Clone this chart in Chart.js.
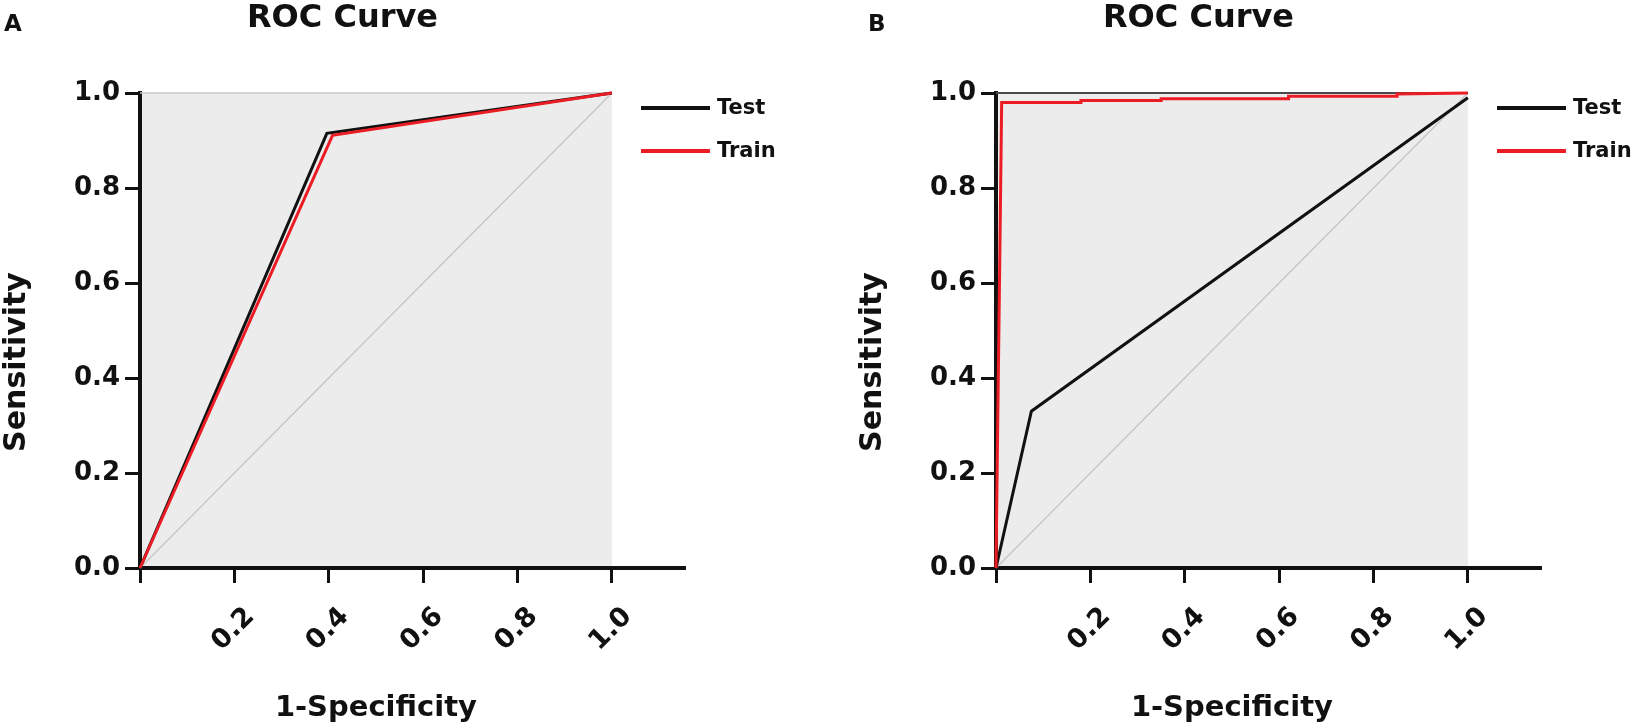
<!DOCTYPE html>
<html>
<head>
<meta charset="utf-8">
<script src="https://cdn.jsdelivr.net/npm/chart.js@4.4.1/dist/chart.umd.min.js"></script>
<style>
  html, body { margin: 0; padding: 0; background: #ffffff; width: 1635px; height: 725px; overflow: hidden; }
  .panel { position: absolute; top: 0; width: 866px; height: 725px; }
  .plabel { position: absolute; font-family: 'DejaVu Sans', sans-serif; font-weight: bold; font-size: 23px; color: #111; }
</style>
</head>
<body>
<div class="panel" style="left:0px"><canvas id="chartA" width="866" height="725"></canvas></div>
<div class="panel" style="left:856px"><canvas id="chartB" width="866" height="725"></canvas></div>
<div class="plabel" style="left:4px; top:10px;">A</div>
<div class="plabel" style="left:868px; top:10px;">B</div>
<script>
// ---- data ----
const seriesLabels = ['Test', 'Train'];
const xTickValues = [0, 0.2, 0.4, 0.6, 0.8, 1.0];
const yTickValues = [0, 0.2, 0.4, 0.6, 0.8, 1.0];
const xAxisMax = 1.155;

const testA_x = [0, 0.396, 1.0];
const testA_y = [0, 0.915, 1.0];
const trainA_x = [0, 0.408, 1.0];
const trainA_y = [0, 0.911, 1.0];

const testB_x = [0, 0.075, 1.0];
const testB_y = [0, 0.33, 0.99];
const trainB_x = [0, 0.004, 0.008, 0.012, 0.18, 0.18, 0.35, 0.35, 0.62, 0.62, 0.85, 0.85, 1.0];
const trainB_y = [0, 0.33, 0.65, 0.98, 0.98, 0.984, 0.984, 0.988, 0.988, 0.993, 0.993, 0.998, 1.0];

const diag_x = [0, 1];
const diag_y = [0, 1];
const top_x = [0, 1];
const top_y = [1, 1];

const toPts = (xs, ys) => xs.map((x, i) => ({ x: x, y: ys[i] }));

const FONT = "'DejaVu Sans', sans-serif";
const INK = '#111111';
const RED = '#ec1c24';

const bgPlugin = {
  id: 'plotBg',
  beforeDraw(chart) {
    const { ctx, scales: { x, y } } = chart;
    const x0 = x.getPixelForValue(0), x1 = x.getPixelForValue(1);
    const y0 = y.getPixelForValue(0), y1 = y.getPixelForValue(1);
    ctx.save();
    ctx.fillStyle = '#ececec';
    ctx.fillRect(x0, y1, x1 - x0, y0 - y1);
    ctx.restore();
  }
};

const annotPlugin = {
  id: 'annot',
  afterDraw(chart) {
    const { ctx, scales: { x, y }, chartArea } = chart;
    ctx.save();
    ctx.fillStyle = INK;
    ctx.font = "bold 29px " + FONT;
    ctx.textAlign = 'center';
    ctx.textBaseline = 'middle';
    ctx.fillText('1-Specificity', x.getPixelForValue(0.5), 708);
    ctx.translate(17, 362);
    ctx.rotate(-Math.PI / 2);
    ctx.font = "bold 30px " + FONT;
    ctx.fillText('Sensitivity', 0, 0);
    ctx.restore();
    // legend
    ctx.save();
    const lx = chartArea.left + 501;
    const ys = [108, 151];
    chart.data.datasets.filter(d => seriesLabels.includes(d.label)).forEach((d) => {
      const idx = seriesLabels.indexOf(d.label);
      const yy = ys[idx];
      ctx.strokeStyle = d.borderColor;
      ctx.lineWidth = 4;
      ctx.beginPath();
      ctx.moveTo(lx, yy);
      ctx.lineTo(lx + 69, yy);
      ctx.stroke();
      ctx.fillStyle = INK;
      ctx.font = "bold 21px " + FONT;
      ctx.textAlign = 'left';
      ctx.textBaseline = 'middle';
      ctx.fillText(d.label, lx + 76, yy + 1);
    });
    ctx.restore();
  }
};

function makeChart(id, test, train, topColor, topWidth) {
  return new Chart(document.getElementById(id), {
    type: 'line',
    data: {
      datasets: [
        { label: seriesLabels[1], data: train, borderColor: RED, borderWidth: 3, pointRadius: 0, order: 0, clip: false, tension: 0 },
        { label: seriesLabels[0], data: test, borderColor: INK, borderWidth: 3, pointRadius: 0, order: 1, clip: false, tension: 0 },
        { label: 'top', data: toPts(top_x, top_y), borderColor: topColor, borderWidth: topWidth, pointRadius: 0, order: 2, clip: false },
        { label: 'diag', data: toPts(diag_x, diag_y), borderColor: '#c4c4c4', borderWidth: 1.2, pointRadius: 0, order: 3, clip: false }
      ]
    },
    options: {
      responsive: false,
      animation: false,
      devicePixelRatio: 1,
      layout: { padding: { left: 0, right: 181, top: 0, bottom: 0 } },
      plugins: {
        legend: { display: false },
        tooltip: { enabled: false },
        title: {
          display: true,
          text: 'ROC Curve',
          color: INK,
          font: { family: FONT, weight: 'bold', size: 32, lineHeight: 1 },
          padding: { top: 3, bottom: 58 }
        }
      },
      scales: {
        x: {
          type: 'linear',
          min: 0,
          max: xAxisMax,
          afterBuildTicks: (s) => { s.ticks = xTickValues.map(v => ({ value: v })); },
          afterFit: (s) => { s.height = 157; },
          ticks: {
            autoSkip: false,
            minRotation: 45,
            maxRotation: 45,
            padding: 18,
            labelOffset: 16,
            color: INK,
            font: { family: FONT, weight: 'bold', size: 27 },
            callback: (v) => (v === 0 ? '' : Number(v).toFixed(1))
          },
          grid: { display: true, drawOnChartArea: false, drawTicks: true, tickLength: 15, tickWidth: 3, tickColor: INK },
          border: { display: true, width: 4, color: INK }
        },
        y: {
          type: 'linear',
          min: 0,
          max: 1,
          afterBuildTicks: (s) => { s.ticks = yTickValues.map(v => ({ value: v })); },
          afterFit: (s) => { s.width = 140; },
          ticks: {
            padding: 5,
            color: INK,
            font: { family: FONT, weight: 'bold', size: 26 },
            callback: (v) => Number(v).toFixed(1)
          },
          grid: { display: true, drawOnChartArea: false, drawTicks: true, tickLength: 15, tickWidth: 3, tickColor: INK },
          border: { display: true, width: 4, color: INK }
        }
      }
    },
    plugins: [bgPlugin, annotPlugin]
  });
}

makeChart('chartA', toPts(testA_x, testA_y), toPts(trainA_x, trainA_y), '#c8c8c8', 1.5);
makeChart('chartB', toPts(testB_x, testB_y), toPts(trainB_x, trainB_y), '#4a4a4a', 2);
</script>
</body>
</html>
